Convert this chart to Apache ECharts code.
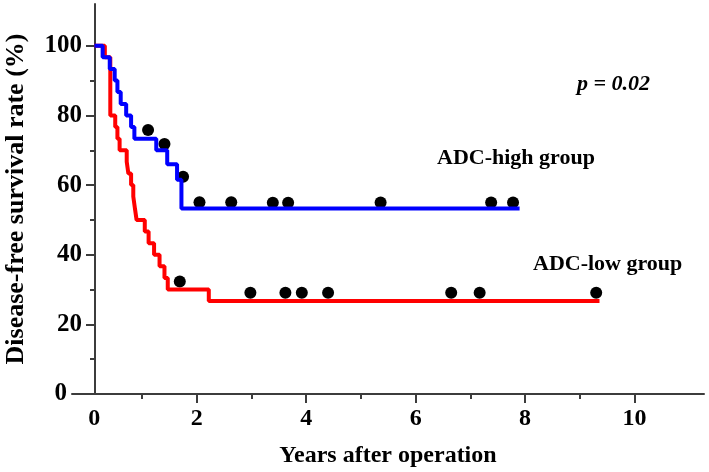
<!DOCTYPE html>
<html>
<head>
<meta charset="utf-8">
<script src="https://cdn.jsdelivr.net/npm/echarts@6/dist/echarts.min.js"></script>
<style>
html,body{margin:0;padding:0;background:#fff;}
#c{width:709px;height:472px;}
</style>
</head>
<body>
<div id="c"></div>
<script>
// ADC-high group Kaplan-Meier steps (years, %)
const highTimes = [0.13, 0.28, 0.41, 0.50, 0.55, 0.61, 0.71, 0.80, 0.86, 1.26, 1.46, 1.64, 1.72, 7.90];
const highSurv  = [100, 96.7, 93.3, 90.0, 86.7, 83.3, 80.0, 76.7, 73.3, 70.0, 66.0, 61.5, 53.3, 53.3];
// ADC-low group Kaplan-Meier steps
const lowTimes = [0.13, 0.32, 0.42, 0.51, 0.55, 0.59, 0.72, 0.75, 0.80, 0.84, 0.87, 0.90, 1.05, 1.12, 1.22, 1.32, 1.41, 1.47, 2.22, 9.36];
const lowSurv  = [100, 96.7, 80.0, 76.7, 73.3, 70.0, 66.7, 63.3, 60.0, 56.7, 53.3, 50.0, 46.7, 43.3, 40.0, 36.7, 33.3, 30.0, 26.7, 26.7];
// censored observations (dots)
const highCensorT = [1.11, 1.41, 1.75, 2.05, 2.63, 3.39, 3.67, 5.36, 7.38, 7.78];
const highCensorS = [75.8, 71.8, 62.4, 55.1, 55.1, 54.9, 54.9, 55.0, 55.0, 55.0];
const lowCensorT = [1.69, 2.98, 3.62, 3.92, 4.40, 6.65, 7.17, 9.30];
const lowCensorS = [32.3, 29.1, 29.1, 29.1, 29.1, 29.1, 29.1, 29.1];
// ticks
const xTickLabels = [0, 2, 4, 6, 8, 10];
const xMajorTicks = [2, 4, 6, 8, 10];
const xMinorTicks = [1, 3, 5, 7, 9];
const yTickLabels = [0, 20, 40, 60, 80, 100];
const yMinorTicks = [10, 30, 50, 70, 90];

const serif = '"Liberation Serif","Times New Roman",serif';
const axisColor = '#3c3c3c';
const chart = echarts.init(document.getElementById('c'));

const pairs = (a, b) => a.map((v, i) => [v, b[i]]);
const textBase = {fontFamily: serif, fontWeight: 'bold', color: '#000'};

chart.setOption({
  animation: false,
  backgroundColor: '#fff',
  grid: {left: 72, right: 5, top: 4, bottom: 78, containLabel: false, outerBoundsMode: 'none'},
  xAxis: [{
    type: 'value', min: -0.28, max: 11.27, position: 'bottom',
    axisLine: {onZero: false, lineStyle: {color: axisColor, width: 2}},
    axisTick: {show: true, customValues: xMajorTicks, length: 9, lineStyle: {color: axisColor, width: 2}},
    axisLabel: Object.assign({
      customValues: xTickLabels, margin: 13, fontSize: 24,
      formatter: v => v === 0 ? '{z|0}' : String(v),
      rich: {z: Object.assign({fontSize: 24, padding: [0, 0, 0, 14]}, textBase)}
    }, textBase),
    splitLine: {show: false},
    name: 'Years after operation', nameLocation: 'middle', nameGap: 50,
    nameTextStyle: Object.assign({fontSize: 24}, textBase)
  }, {
    type: 'value', min: -0.28, max: 11.27, position: 'bottom',
    axisLine: {show: false, onZero: false},
    axisTick: {show: true, customValues: xMinorTicks, length: 5, lineStyle: {color: axisColor, width: 2}},
    axisLabel: {show: false},
    splitLine: {show: false}
  }],
  yAxis: [{
    type: 'value', min: 0, max: 112, position: 'left', offset: -23,
    axisLine: {show: true, onZero: false, lineStyle: {color: axisColor, width: 2}},
    axisTick: {show: true, customValues: yTickLabels, length: 9, lineStyle: {color: axisColor, width: 2}},
    axisLabel: Object.assign({
      customValues: yTickLabels, margin: 13, fontSize: 25,
      formatter: v => v === 0 ? '{z|0}' : String(v),
      rich: {z: Object.assign({fontSize: 25, padding: [0, 15, 0, 0]}, textBase)}
    }, textBase),
    splitLine: {show: false},
    name: 'Disease-free survival rate (%)', nameLocation: 'middle', nameGap: 66, nameRotate: 90,
    nameTextStyle: Object.assign({fontSize: 26}, textBase)
  }, {
    type: 'value', min: 0, max: 112, position: 'left', offset: -23,
    axisLine: {show: false, onZero: false},
    axisTick: {show: true, customValues: yMinorTicks, length: 5, lineStyle: {color: axisColor, width: 2}},
    axisLabel: {show: false},
    splitLine: {show: false}
  }],
  series: [{
    name: 'ADC-low group', type: 'line', step: 'end', showSymbol: false,
    data: pairs(lowTimes, lowSurv),
    lineStyle: {color: '#ff0000', width: 4}, itemStyle: {color: '#ff0000'}
  }, {
    name: 'ADC-high group', type: 'line', step: 'end', showSymbol: false,
    data: pairs(highTimes, highSurv),
    lineStyle: {color: '#0000ff', width: 4}, itemStyle: {color: '#0000ff'}
  }, {
    name: 'censored-high', type: 'scatter', symbol: 'circle', symbolSize: 12,
    data: pairs(highCensorT, highCensorS), itemStyle: {color: '#000', opacity: 1}
  }, {
    name: 'censored-low', type: 'scatter', symbol: 'circle', symbolSize: 12,
    data: pairs(lowCensorT, lowCensorS), itemStyle: {color: '#000', opacity: 1}
  }],
  graphic: [
    {type: 'text', left: 577, top: 73, style: {text: 'p = 0.02', font: 'italic bold 22px ' + serif, fill: '#000'}},
    {type: 'text', left: 437, top: 147, style: {text: 'ADC-high group', font: 'bold 22px ' + serif, fill: '#000'}},
    {type: 'text', left: 533, top: 253, style: {text: 'ADC-low group', font: 'bold 22px ' + serif, fill: '#000'}}
  ]
});
</script>
</body>
</html>
